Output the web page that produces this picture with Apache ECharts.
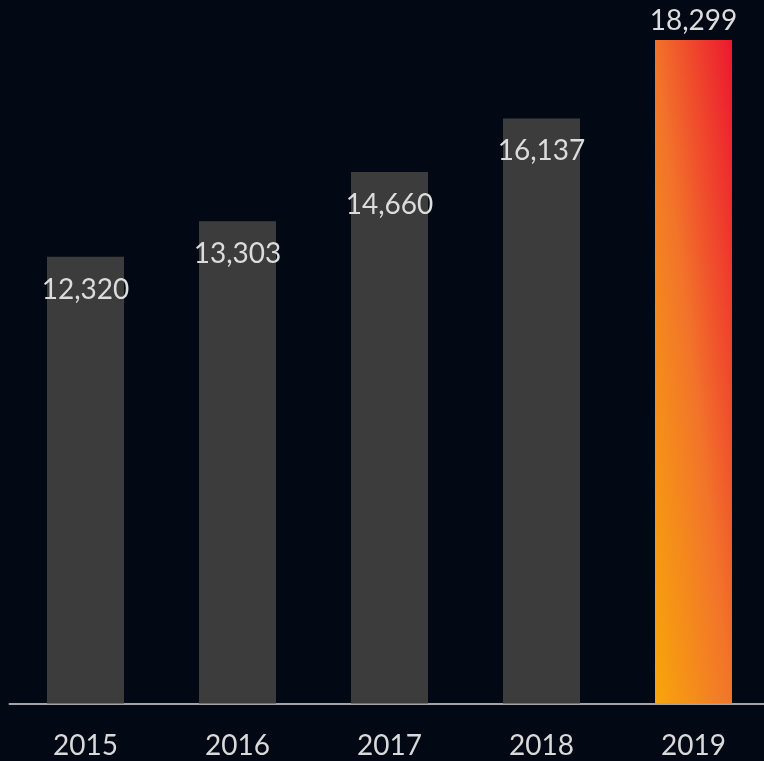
<!DOCTYPE html>
<html>
<head>
<meta charset="utf-8">
<script src="https://cdn.jsdelivr.net/npm/echarts@6/dist/echarts.min.js"></script>
<style>
html,body{margin:0;padding:0;background:#020814;}
#chart{width:764px;height:761px;}
</style>
</head>
<body>
<div id="chart"></div>
<script>
var categories = ['2015', '2016', '2017', '2018', '2019'];
var values = [12320, 13303, 14660, 16137, 18299];
var highlightIndex = 4;

var chart = echarts.init(document.getElementById('chart'), null, {renderer: 'canvas'});

var grayColor = '#3c3c3c';
var highlightColor = new echarts.graphic.LinearGradient(0, 1, 1.97, 0.973, [
  {offset: 0, color: '#f8a60a'},
  {offset: 0.5, color: '#f2742a'},
  {offset: 1, color: '#ec1a2f'}
]);

var seriesData = values.map(function (v, i) {
  var hi = i === highlightIndex;
  return {
    value: v,
    itemStyle: {color: hi ? highlightColor : grayColor},
    label: {
      position: hi ? ['50%', -19] : ['50%', 33]
    }
  };
});

chart.setOption({
  backgroundColor: '#020814',
  animation: false,
  grid: {left: 9.5, width: 760, top: 40, bottom: 57.5, containLabel: false, outerBoundsMode: 'none'},
  xAxis: {
    type: 'category',
    data: categories,
    axisLine: {show: true, lineStyle: {color: '#a3a3a3', width: 2}},
    axisTick: {show: false},
    axisLabel: {
      color: '#d9d9d9',
      fontFamily: 'Lato',
      fontSize: 28,
      margin: 28
    }
  },
  yAxis: {
    type: 'value',
    min: 0,
    max: function (e) { return e.max; },
    show: false,
    splitLine: {show: false}
  },
  series: [{
    type: 'bar',
    data: seriesData,
    barWidth: 77,
    label: {
      show: true,
      color: '#dcdcdc',
      fontFamily: 'Lato',
      fontSize: 28,
      align: 'center',
      verticalAlign: 'middle',
      formatter: function (p) { return p.value.toLocaleString('en-US'); }
    }
  }]
});
</script>
</body>
</html>
